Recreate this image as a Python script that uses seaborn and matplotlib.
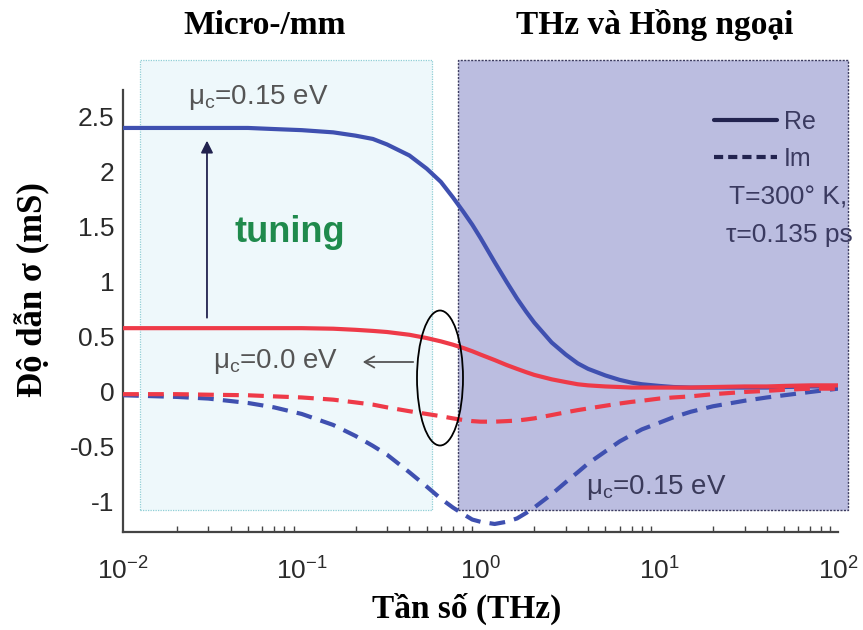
import numpy as np
import pandas as pd
import matplotlib
matplotlib.use("Agg")
import matplotlib.pyplot as plt
import seaborn as sns
from matplotlib.patches import Rectangle, Ellipse, FancyArrowPatch
from matplotlib.lines import Line2D

# ---------------- data ----------------
freq_thz = [0.01, 0.02, 0.03, 0.05, 0.07, 0.1, 0.15, 0.2, 0.25, 0.3, 0.4, 0.5, 0.6, 0.7,
            0.8, 0.9, 1.0, 1.2, 1.4, 1.6, 1.8, 2.0, 2.5, 3, 3.5, 4, 5, 6, 7, 8, 10, 12,
            15, 20, 30, 40, 50, 70, 100]
re_mu015 = [2.40, 2.40, 2.40, 2.40, 2.39, 2.38, 2.36, 2.33, 2.30, 2.25, 2.15, 2.03, 1.91, 1.77,
            1.64, 1.52, 1.40, 1.18, 1.00, 0.85, 0.73, 0.63, 0.45, 0.34, 0.26, 0.21, 0.15, 0.11,
            0.085, 0.07, 0.055, 0.045, 0.04, 0.04, 0.04, 0.04, 0.045, 0.05, 0.05]
im_mu015 = [-0.03, -0.045, -0.06, -0.10, -0.14, -0.20, -0.30, -0.40, -0.49, -0.57, -0.73, -0.86,
            -0.97, -1.05, -1.11, -1.16, -1.18, -1.20, -1.18, -1.15, -1.10, -1.05, -0.93, -0.82,
            -0.73, -0.65, -0.54, -0.45, -0.39, -0.34, -0.28, -0.23, -0.18, -0.13, -0.08, -0.05,
            -0.03, 0.0, 0.03]
re_mu000 = [0.58, 0.58, 0.58, 0.58, 0.58, 0.58, 0.575, 0.565, 0.555, 0.545, 0.52, 0.49, 0.46,
            0.43, 0.40, 0.37, 0.34, 0.29, 0.245, 0.21, 0.18, 0.155, 0.115, 0.09, 0.07, 0.06,
            0.05, 0.045, 0.04, 0.04, 0.04, 0.04, 0.04, 0.045, 0.05, 0.05, 0.055, 0.06, 0.06]
im_mu000 = [-0.02, -0.02, -0.025, -0.03, -0.04, -0.05, -0.07, -0.095, -0.115, -0.14, -0.175,
            -0.20, -0.22, -0.24, -0.255, -0.265, -0.27, -0.27, -0.265, -0.26, -0.25, -0.24,
            -0.21, -0.185, -0.165, -0.15, -0.125, -0.105, -0.09, -0.08, -0.06, -0.05, -0.04,
            -0.02, 0.0, 0.01, 0.02, 0.03, 0.03]

y_ticks = [-1, -0.5, 0, 0.5, 1, 1.5, 2, 2.5]
y_tick_labels = ["-1", "-0.5", "0", "0.5", "1", "1.5", "2", "2.5"]
x_ticks = [1e-2, 1e-1, 1e0, 1e1, 1e2]

title_left = "Micro-/mm"
title_right = "THz và Hồng ngoại"
x_label = "Tần số (THz)"
y_label = "Độ dẫn σ (mS)"

# ---------------- styling ----------------
sns.set_theme(style="white")
plt.rcParams["font.family"] = ["Liberation Sans", "DejaVu Sans"]
plt.rcParams["mathtext.default"] = "regular"
plt.rcParams["mathtext.fontset"] = "custom"
plt.rcParams["mathtext.rm"] = "Liberation Sans"

BLUE = "#3f50b0"
RED = "#ee3a48"
GRAY = "#555555"
NAVY = "#22234f"

W, H = 863, 630
fig = plt.figure(figsize=(W / 100, H / 100), dpi=100)
fig.patch.set_facecolor("white")


def fx(px):
    return px / W


def fy(py):
    return 1 - py / H


ax = fig.add_axes([fx(123), fy(532), fx(838) - fx(123), fy(90) - fy(532)])
ax.patch.set_alpha(0)

# background region boxes (figure coordinates)
fig.add_artist(Rectangle((fx(140), fy(510)), fx(432) - fx(140), fy(60) - fy(510),
                         transform=fig.transFigure, facecolor="#eef8fb",
                         edgecolor="#8fcfd6", lw=0.9, ls=(0, (1, 1)), zorder=-2))
fig.add_artist(Rectangle((fx(458), fy(510)), fx(848) - fx(458), fy(60) - fy(510),
                         transform=fig.transFigure, facecolor="#bbbde0",
                         edgecolor="#3c3c60", lw=1.0, ls=(0, (1.5, 1)), zorder=-2))

n = len(freq_thz)
df = pd.DataFrame({
    "f": freq_thz * 4,
    "sigma": re_mu015 + im_mu015 + re_mu000 + im_mu000,
    "mu": ["0.15"] * (2 * n) + ["0.0"] * (2 * n),
    "part": (["Re"] * n + ["Im"] * n) * 2,
})

for mu, col in [("0.15", BLUE), ("0.0", RED)]:
    for part, ls in [("Re", "-"), ("Im", (0, (3.8, 2.2)))]:
        sub = df[(df.mu == mu) & (df.part == part)]
        sns.lineplot(data=sub, x="f", y="sigma", ax=ax, color=col, lw=3.0,
                     linestyle=ls, sort=True, estimator=None, legend=False, zorder=3)

ax.set_xscale("log")
ax.set_xlim(1e-2, 1e2)
ax.set_ylim(-1.273, 2.745)
ax.set_xticks(x_ticks)
ax.set_yticks(y_ticks)
ax.set_yticklabels(y_tick_labels)
ax.set_xlabel("")
ax.set_ylabel("")
for s in ["top", "right"]:
    ax.spines[s].set_visible(False)
for s in ["left", "bottom"]:
    ax.spines[s].set_color("#444444")
    ax.spines[s].set_linewidth(1.6)
ax.tick_params(axis="both", which="major", direction="in", length=6, width=1.2,
               colors="#444444", labelsize=19, labelcolor="#2a2a2a")
ax.tick_params(axis="x", which="minor", direction="in", length=4, width=1.0,
               colors="#444444", bottom=True)
ax.tick_params(axis="x", pad=18)
ax.tick_params(axis="y", pad=6)

# titles and axis labels (serif bold)
serif = ["Liberation Serif", "DejaVu Serif"]
fig.text(fx(265), fy(25), title_left, ha="center", va="center", family=serif,
         fontweight="bold", fontsize=24, color="black")
fig.text(fx(655), fy(25), title_right, ha="center", va="center", family=serif,
         fontweight="bold", fontsize=24, color="black")
fig.text(fx(467), fy(609), x_label, ha="center", va="center", family=serif,
         fontweight="bold", fontsize=24, color="black")
fig.text(fx(33), fy(290), y_label, ha="center", va="center", family=serif,
         fontweight="bold", fontsize=25, color="black", rotation=90)

# annotations
fig.text(fx(188), fy(97), r"μ$_c$=0.15 eV", ha="left", va="center", fontsize=20, color=GRAY)
fig.text(fx(213), fy(362), r"μ$_c$=0.0 eV", ha="left", va="center", fontsize=20, color=GRAY)
fig.text(fx(586), fy(487), r"μ$_c$=0.15 eV", ha="left", va="center", fontsize=20, color="#3a3a5a")
fig.text(fx(290), fy(232), "tuning", ha="center", va="center", fontsize=26,
         fontweight="bold", color="#1f8a4c")

ax.annotate("", xy=(0.0295, 2.31), xytext=(0.0295, 0.65),
            arrowprops=dict(arrowstyle="-|>,head_length=0.6,head_width=0.3",
                            color=NAVY, lw=1.3), zorder=4)
fig.add_artist(Ellipse((fx(440), fy(378)), fx(46), 135 / H, transform=fig.transFigure,
                       facecolor="none", edgecolor="black", lw=1.3, zorder=5))
fig.add_artist(FancyArrowPatch((fx(416), fy(362)), (fx(360), fy(362)),
                               transform=fig.transFigure,
                               arrowstyle="->,head_length=7,head_width=4",
                               color=GRAY, lw=1.3, zorder=5))

# legend
handles = [Line2D([], [], color=NAVY, lw=3.0, ls="-"),
           Line2D([], [], color=NAVY, lw=3.0, ls=(0, (2.2, 1.2)))]
leg = ax.legend(handles, ["Re", "Im"], loc="upper left",
                bbox_to_anchor=(fx(714), fy(110)), bbox_transform=fig.transFigure,
                frameon=False, fontsize=18, handlelength=2.5, handletextpad=0.3,
                labelspacing=0.5, borderpad=0, borderaxespad=0)
for t in leg.get_texts():
    t.set_color("#3a3a60")
fig.text(fx(847), fy(198), "T=300° K,", ha="right", va="center", fontsize=19, color="#3a3a60")
fig.text(fx(853), fy(235), "τ=0.135 ps", ha="right", va="center", fontsize=19, color="#3a3a60")

fig.savefig("out.png", dpi=100)
